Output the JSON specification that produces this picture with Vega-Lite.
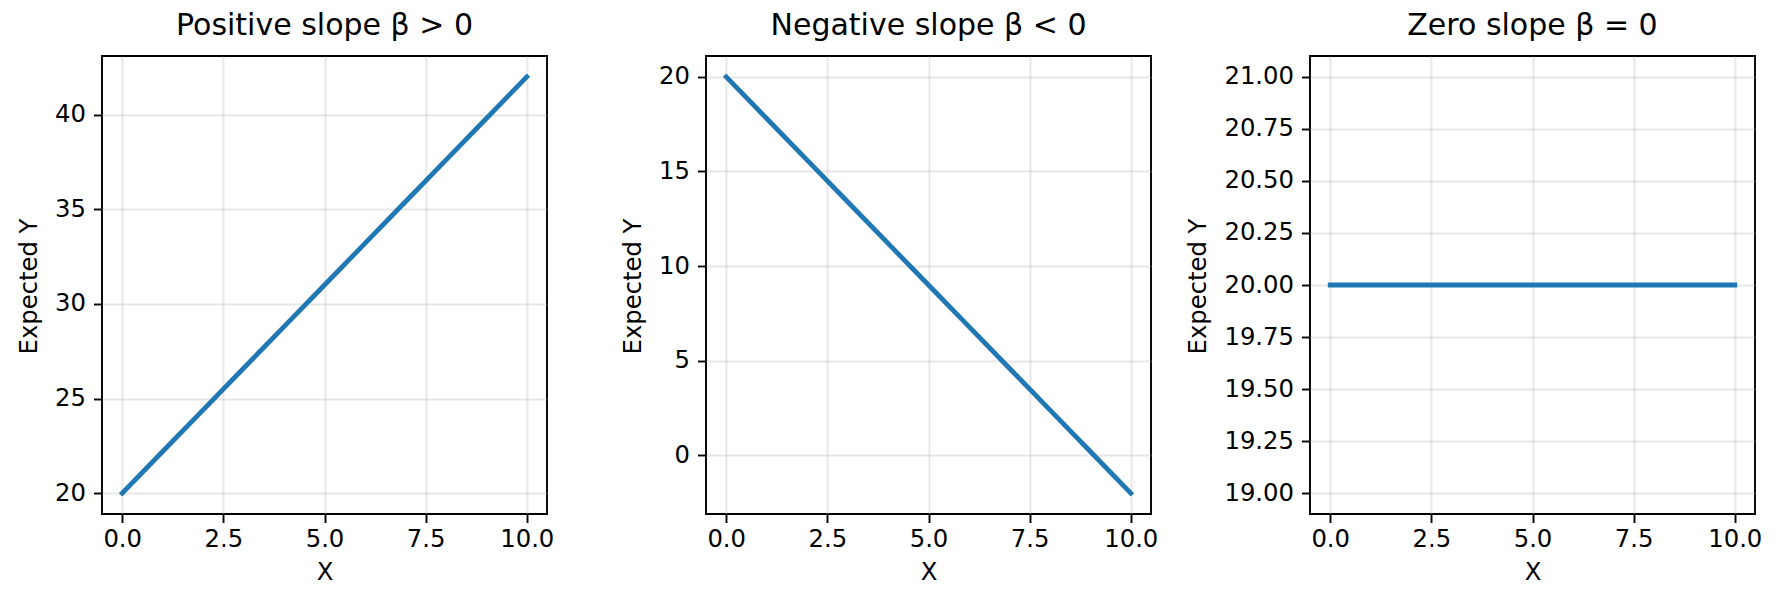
{
  "$schema": "https://vega.github.io/schema/vega-lite/v6.json",
  "padding": {"left": 16, "top": 10, "right": 0, "bottom": 0},
  "background": "white",
  "bounds": "flush",
  "spacing": 159,
  "datasets": {
    "lines": [
      {"panel": "pos", "x": 0, "y": 20},
      {"panel": "pos", "x": 1, "y": 22.2},
      {"panel": "pos", "x": 2, "y": 24.4},
      {"panel": "pos", "x": 3, "y": 26.6},
      {"panel": "pos", "x": 4, "y": 28.8},
      {"panel": "pos", "x": 5, "y": 31},
      {"panel": "pos", "x": 6, "y": 33.2},
      {"panel": "pos", "x": 7, "y": 35.4},
      {"panel": "pos", "x": 8, "y": 37.6},
      {"panel": "pos", "x": 9, "y": 39.8},
      {"panel": "pos", "x": 10, "y": 42},
      {"panel": "neg", "x": 0, "y": 20},
      {"panel": "neg", "x": 1, "y": 17.8},
      {"panel": "neg", "x": 2, "y": 15.6},
      {"panel": "neg", "x": 3, "y": 13.4},
      {"panel": "neg", "x": 4, "y": 11.2},
      {"panel": "neg", "x": 5, "y": 9},
      {"panel": "neg", "x": 6, "y": 6.8},
      {"panel": "neg", "x": 7, "y": 4.6},
      {"panel": "neg", "x": 8, "y": 2.4},
      {"panel": "neg", "x": 9, "y": 0.2},
      {"panel": "neg", "x": 10, "y": -2},
      {"panel": "zero", "x": 0, "y": 20},
      {"panel": "zero", "x": 1, "y": 20},
      {"panel": "zero", "x": 2, "y": 20},
      {"panel": "zero", "x": 3, "y": 20},
      {"panel": "zero", "x": 4, "y": 20},
      {"panel": "zero", "x": 5, "y": 20},
      {"panel": "zero", "x": 6, "y": 20},
      {"panel": "zero", "x": 7, "y": 20},
      {"panel": "zero", "x": 8, "y": 20},
      {"panel": "zero", "x": 9, "y": 20},
      {"panel": "zero", "x": 10, "y": 20}
    ]
  },
  "hconcat": [
    {
      "width": 445,
      "height": 458,
      "title": "Positive slope β > 0",
      "data": {"name": "lines"},
      "transform": [{"filter": "datum.panel == 'pos'"}],
      "mark": {"type": "line", "color": "#1f77b4", "strokeWidth": 4.8, "strokeCap": "square"},
      "encoding": {
        "x": {"field": "x", "type": "quantitative", "title": "X",
              "scale": {"domain": [-0.5, 10.5], "nice": false, "zero": false},
              "axis": {"values": [0, 2.5, 5, 7.5, 10], "format": ".1f"}},
        "y": {"field": "y", "type": "quantitative", "title": "Expected Y",
              "scale": {"domain": [18.9, 43.1], "nice": false, "zero": false},
              "axis": {"values": [20, 25, 30, 35, 40], "format": "d", "titleX": -73, "titleY": 230}}
      }
    },
    {
      "width": 445,
      "height": 458,
      "title": "Negative slope β < 0",
      "data": {"name": "lines"},
      "transform": [{"filter": "datum.panel == 'neg'"}],
      "mark": {"type": "line", "color": "#1f77b4", "strokeWidth": 4.8, "strokeCap": "square"},
      "encoding": {
        "x": {"field": "x", "type": "quantitative", "title": "X",
              "scale": {"domain": [-0.5, 10.5], "nice": false, "zero": false},
              "axis": {"values": [0, 2.5, 5, 7.5, 10], "format": ".1f"}},
        "y": {"field": "y", "type": "quantitative", "title": "Expected Y",
              "scale": {"domain": [-3.1, 21.1], "nice": false, "zero": false},
              "axis": {"values": [0, 5, 10, 15, 20], "format": "d", "titleX": -73, "titleY": 230}}
      }
    },
    {
      "width": 445,
      "height": 458,
      "title": "Zero slope β = 0",
      "data": {"name": "lines"},
      "transform": [{"filter": "datum.panel == 'zero'"}],
      "mark": {"type": "line", "color": "#1f77b4", "strokeWidth": 4.8, "strokeCap": "square"},
      "encoding": {
        "x": {"field": "x", "type": "quantitative", "title": "X",
              "scale": {"domain": [-0.5, 10.5], "nice": false, "zero": false},
              "axis": {"values": [0, 2.5, 5, 7.5, 10], "format": ".1f"}},
        "y": {"field": "y", "type": "quantitative", "title": "Expected Y",
              "scale": {"domain": [18.9, 21.1], "nice": false, "zero": false},
              "axis": {"values": [19, 19.25, 19.5, 19.75, 20, 20.25, 20.5, 20.75, 21], "format": ".2f", "titleX": -112, "titleY": 230}}
      }
    }
  ],
  "config": {
    "font": "DejaVu Sans",
    "view": {"stroke": "black", "strokeWidth": 1.9},
    "axis": {
      "domain": false,
      "tickColor": "black",
      "tickWidth": 1.9,
      "tickSize": 8.5,
      "labelFont": "DejaVu Sans",
      "labelFontSize": 24.3,
      "labelColor": "black",
      "titleFont": "DejaVu Sans",
      "titleFontSize": 24.3,
      "titleFontWeight": "normal",
      "titleColor": "black",
      "gridColor": "#b0b0b0",
      "gridOpacity": 0.3,
      "gridWidth": 1.9,
      "labelFlush": false,
      "labelOverlap": false
    },
    "axisX": {
      "labelBaseline": "alphabetic",
      "labelPadding": 24,
      "titleBaseline": "alphabetic",
      "titleY": 65
    },
    "axisY": {
      "labelPadding": 8,
      "titleBaseline": "middle",
      "titleAngle": -90,
      "titleAlign": "center"
    },
    "title": {
      "font": "DejaVu Sans",
      "fontSize": 30,
      "fontWeight": "normal",
      "color": "black",
      "baseline": "alphabetic",
      "offset": 15,
      "anchor": "middle",
      "frame": "group"
    }
  }
}
